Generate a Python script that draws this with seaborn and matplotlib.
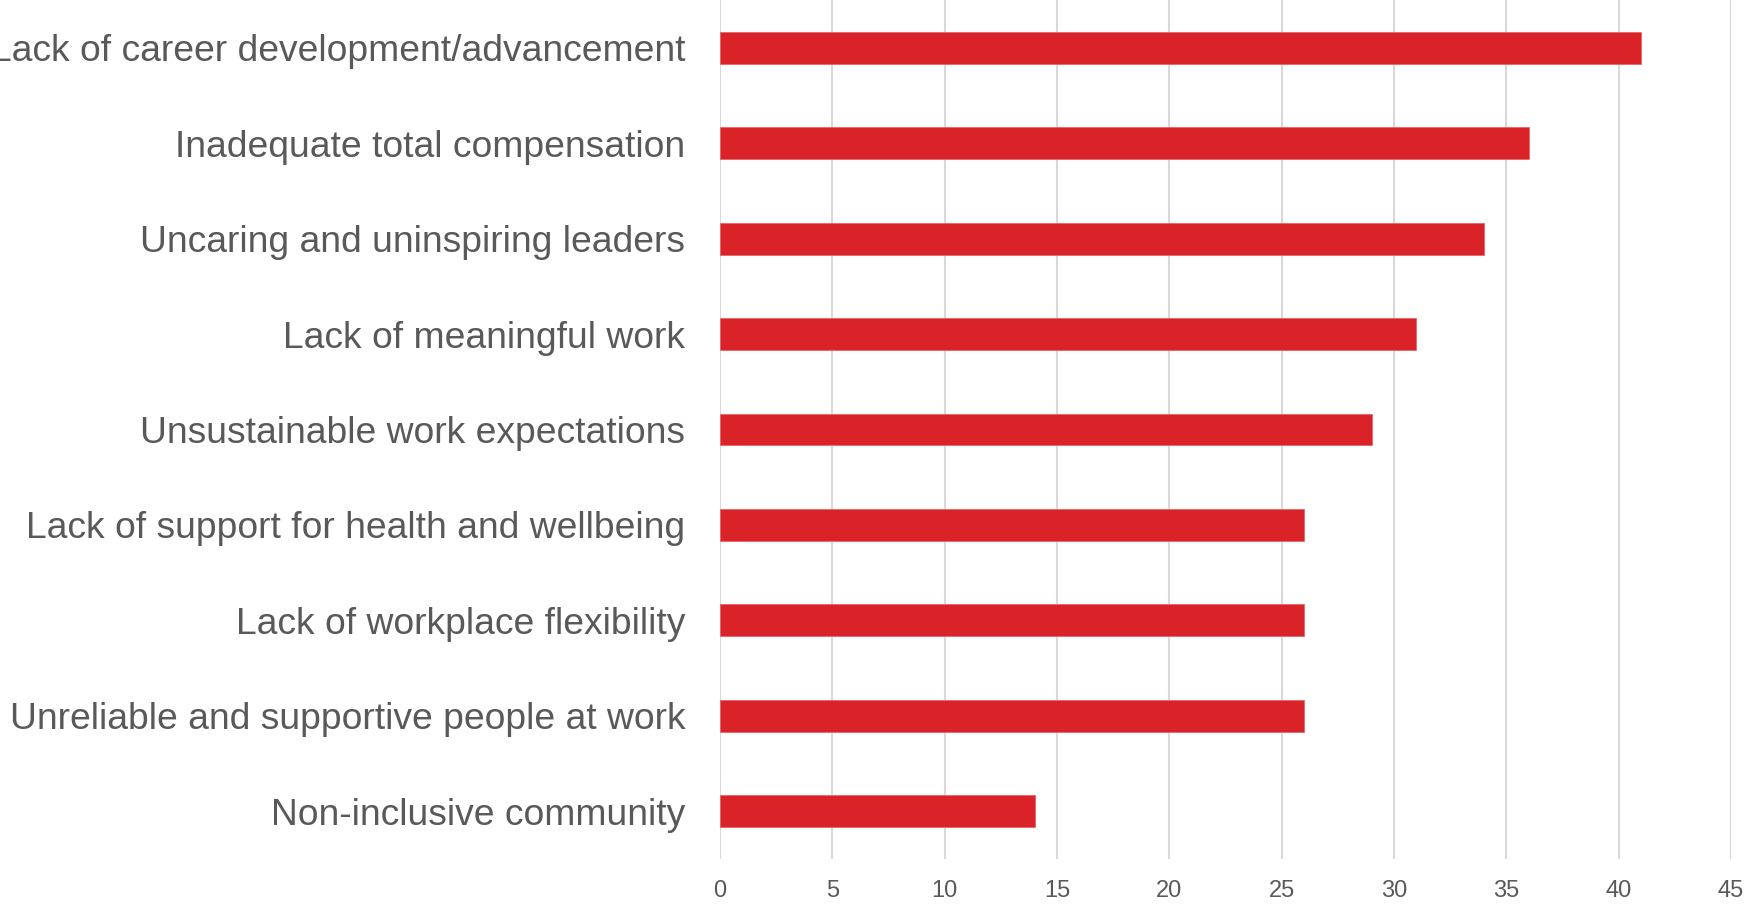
import matplotlib
matplotlib.use("Agg")
import matplotlib.pyplot as plt
import seaborn as sns
import pandas as pd

categories = [
    "Lack of career development/advancement",
    "Inadequate total compensation",
    "Uncaring and uninspiring leaders",
    "Lack of meaningful work",
    "Unsustainable work expectations",
    "Lack of support for health and wellbeing",
    "Lack of workplace flexibility",
    "Unreliable and supportive people at work",
    "Non-inclusive community",
]
values = [41, 36, 34, 31, 29, 26, 26, 26, 14]
xticks = [0, 5, 10, 15, 20, 25, 30, 35, 40, 45]

sns.set_theme(style="white")
plt.rcParams['font.family'] = ['Liberation Sans', 'DejaVu Sans']

df = pd.DataFrame({"reason": categories, "value": values})

fig = plt.figure(figsize=(17.54, 9.07), dpi=100)
ax = fig.add_axes([720/1754, 48/907, (1731-720)/1754, 859/907])

sns.barplot(data=df, y="reason", x="value", orient="h", color="#DA2229",
            saturation=1, width=0.335, ax=ax, edgecolor="#E8646A", linewidth=0.6)

ax.set_xlim(0, 45)
ax.set_ylim(8.5, -0.5)
ax.set_xticks(xticks)
ax.set_xticklabels([str(t) for t in xticks])
ax.xaxis.grid(True, color="#D9D9D9", linewidth=1.5)
ax.set_axisbelow(True)
for s in ax.spines.values():
    s.set_visible(False)
ax.set_xlabel("")
ax.set_ylabel("")
ax.tick_params(axis="y", length=0, pad=25, labelsize=26.8, labelcolor="#595959")
ax.tick_params(axis="x", length=0, pad=15, labelsize=17, labelcolor="#595959")

fig.savefig("out.png", dpi=100, facecolor="white")
